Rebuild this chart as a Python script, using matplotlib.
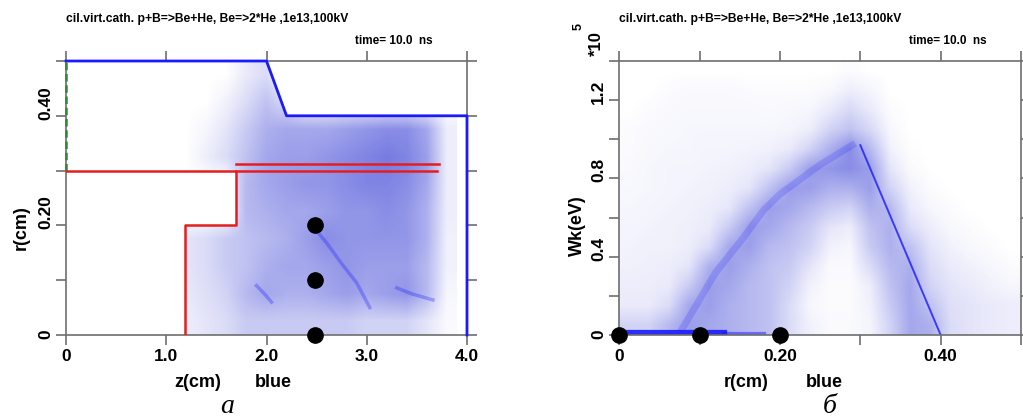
import matplotlib
matplotlib.use("Agg")
import matplotlib.pyplot as plt
import numpy as np
from matplotlib.colors import LinearSegmentedColormap
from matplotlib.patches import Polygon
from matplotlib.transforms import offset_copy

plt.rcParams["font.family"] = ["Liberation Sans", "DejaVu Sans"]

TITLE = "cil.virt.cath. p+B=>Be+He, Be=>2*He ,1e13,100kV"
TIME = "time= 10.0  ns"

# ---- panel a: geometry (z, r in cm) ----
blue_z = [0.0, 2.0, 2.2, 4.0, 4.0]
blue_r = [0.5, 0.5, 0.4, 0.4, 0.0]
green_z = [0.0, 0.0]
green_r = [0.3, 0.5]
red_step_z = [0.0, 1.70, 1.70, 1.19, 1.19]
red_step_r = [0.30, 0.30, 0.20, 0.20, 0.0]
red_lo_z = [1.70, 3.70]
red_lo_r = [0.30, 0.30]
red_hi_z = [1.70, 3.72]
red_hi_r = [0.312, 0.312]
probe_z = [2.48, 2.48, 2.48]
probe_r = [0.20, 0.10, 0.0]

# particle density (rows top -> bottom)
a_z = [1.2, 1.4, 1.6, 1.8, 2.0, 2.2, 2.4, 2.6, 2.8, 3.0, 3.2, 3.4, 3.6, 3.8]
a_r = [0.475, 0.425, 0.375, 0.325, 0.275, 0.225, 0.175, 0.125, 0.075, 0.025]
a_dens = [
    [0.00, 0.00, 0.00, 0.12, 0.20, 0.00, 0.00, 0.00, 0.00, 0.00, 0.00, 0.00, 0.00, 0.00],
    [0.00, 0.00, 0.08, 0.20, 0.35, 0.20, 0.00, 0.00, 0.00, 0.00, 0.00, 0.00, 0.00, 0.00],
    [0.00, 0.05, 0.15, 0.30, 0.45, 0.50, 0.50, 0.50, 0.55, 0.60, 0.65, 0.65, 0.50, 0.10],
    [0.00, 0.10, 0.20, 0.35, 0.50, 0.55, 0.55, 0.60, 0.65, 0.70, 0.75, 0.70, 0.55, 0.10],
    [0.00, 0.00, 0.00, 0.40, 0.50, 0.55, 0.60, 0.60, 0.65, 0.70, 0.70, 0.65, 0.50, 0.10],
    [0.00, 0.00, 0.00, 0.40, 0.45, 0.50, 0.50, 0.55, 0.60, 0.60, 0.65, 0.60, 0.45, 0.10],
    [0.15, 0.20, 0.30, 0.35, 0.40, 0.45, 0.55, 0.65, 0.60, 0.60, 0.60, 0.60, 0.45, 0.08],
    [0.15, 0.20, 0.30, 0.35, 0.45, 0.50, 0.50, 0.55, 0.60, 0.55, 0.55, 0.55, 0.40, 0.08],
    [0.12, 0.18, 0.25, 0.40, 0.50, 0.45, 0.45, 0.50, 0.55, 0.50, 0.55, 0.60, 0.40, 0.05],
    [0.10, 0.15, 0.20, 0.30, 0.30, 0.30, 0.30, 0.30, 0.30, 0.25, 0.25, 0.25, 0.15, 0.03],
]
# denser filaments inside the cloud
a_streaks = [
    ([2.50, 2.60, 2.75, 2.90, 3.03], [0.19, 0.168, 0.13, 0.095, 0.05]),
    ([3.30, 3.45, 3.66], [0.086, 0.075, 0.064]),
    ([1.90, 1.97, 2.05], [0.09, 0.077, 0.06]),
]

# ---- panel b: Wk (1e5 eV) vs r (cm) ----
b_r = [0.0125, 0.0375, 0.0625, 0.0875, 0.1125, 0.1375, 0.1625, 0.1875, 0.2125, 0.2375,
       0.2625, 0.2875, 0.3125, 0.3375, 0.3625, 0.3875, 0.4125, 0.4375, 0.4625, 0.4875]
b_w = [1.35, 1.25, 1.15, 1.05, 0.95, 0.85, 0.75, 0.65, 0.55, 0.45, 0.35, 0.25, 0.15, 0.05]
b_dens = [
    [0.00, 0.00, 0.00, 0.00, 0.00, 0.00, 0.00, 0.00, 0.00, 0.00, 0.00, 0.02, 0.00, 0.00, 0.00, 0.00, 0.00, 0.00, 0.00, 0.00],
    [0.00, 0.00, 0.02, 0.03, 0.03, 0.03, 0.02, 0.02, 0.02, 0.02, 0.04, 0.10, 0.06, 0.00, 0.00, 0.00, 0.00, 0.00, 0.00, 0.00],
    [0.00, 0.02, 0.03, 0.04, 0.04, 0.04, 0.04, 0.03, 0.04, 0.05, 0.12, 0.22, 0.12, 0.02, 0.00, 0.00, 0.00, 0.00, 0.00, 0.00],
    [0.02, 0.03, 0.04, 0.05, 0.05, 0.05, 0.05, 0.05, 0.06, 0.10, 0.25, 0.35, 0.22, 0.04, 0.00, 0.00, 0.00, 0.00, 0.00, 0.00],
    [0.02, 0.04, 0.05, 0.05, 0.06, 0.06, 0.07, 0.08, 0.12, 0.25, 0.45, 0.65, 0.40, 0.08, 0.01, 0.00, 0.00, 0.00, 0.00, 0.00],
    [0.03, 0.05, 0.06, 0.06, 0.07, 0.08, 0.10, 0.15, 0.30, 0.55, 0.60, 0.65, 0.55, 0.15, 0.03, 0.00, 0.00, 0.00, 0.00, 0.00],
    [0.04, 0.05, 0.06, 0.07, 0.08, 0.10, 0.15, 0.35, 0.55, 0.55, 0.45, 0.45, 0.55, 0.25, 0.08, 0.02, 0.00, 0.00, 0.00, 0.00],
    [0.05, 0.06, 0.07, 0.08, 0.10, 0.14, 0.35, 0.55, 0.50, 0.40, 0.30, 0.25, 0.45, 0.40, 0.12, 0.05, 0.02, 0.00, 0.00, 0.00],
    [0.06, 0.07, 0.08, 0.09, 0.12, 0.30, 0.55, 0.50, 0.40, 0.30, 0.15, 0.10, 0.35, 0.45, 0.20, 0.10, 0.04, 0.02, 0.00, 0.00],
    [0.07, 0.08, 0.08, 0.10, 0.20, 0.50, 0.55, 0.40, 0.35, 0.25, 0.08, 0.05, 0.30, 0.45, 0.35, 0.15, 0.08, 0.04, 0.02, 0.00],
    [0.08, 0.09, 0.10, 0.15, 0.45, 0.55, 0.45, 0.35, 0.30, 0.15, 0.03, 0.03, 0.20, 0.40, 0.45, 0.20, 0.12, 0.08, 0.05, 0.02],
    [0.10, 0.10, 0.12, 0.30, 0.55, 0.50, 0.40, 0.35, 0.25, 0.08, 0.02, 0.02, 0.10, 0.35, 0.50, 0.25, 0.15, 0.12, 0.08, 0.05],
    [0.12, 0.12, 0.20, 0.50, 0.55, 0.45, 0.40, 0.35, 0.20, 0.05, 0.02, 0.02, 0.08, 0.30, 0.50, 0.35, 0.18, 0.15, 0.12, 0.10],
    [0.25, 0.25, 0.40, 0.55, 0.50, 0.45, 0.40, 0.35, 0.20, 0.08, 0.03, 0.03, 0.06, 0.25, 0.50, 0.45, 0.20, 0.15, 0.12, 0.10],
]
b_edge_r = [0.30, 0.40]
b_edge_w = [0.97, 0.0]
b_band_r = [0.078, 0.12, 0.153, 0.18, 0.20, 0.25, 0.29]
b_band_w = [0.03, 0.32, 0.49, 0.64, 0.72, 0.87, 0.97]
b_floor_r = [0.0, 0.13]
b_floor_w = [0.008, 0.008]
b_floor2_r = [0.13, 0.18]
b_floor2_w = [0.006, 0.006]
probe2_r = [0.0, 0.10, 0.20]
probe2_w = [0.0, 0.0, 0.0]

BLUE = "#1a1aff"
RED = "#e41e1e"
GREEN = "#2e8b2e"
FRAME = "#6e6e6e"
cloud_cmap = LinearSegmentedColormap.from_list("cloud", ["#ffffff", "#4a50d8"])


def extent_from_centers(xc, yc):
    dx = xc[1] - xc[0]
    dy = abs(yc[1] - yc[0])
    return [xc[0] - dx / 2, xc[-1] + dx / 2, min(yc) - dy / 2, max(yc) + dy / 2]


def style_frame(ax):
    for sp in ax.spines.values():
        sp.set_color(FRAME)
        sp.set_linewidth(1.2)
    ax.tick_params(which="both", direction="out", top=True, right=True,
                   length=7, width=1.2, color=FRAME, labelleft=False,
                   labelsize=12.5, pad=3)
    for lab in ax.get_xticklabels():
        lab.set_fontweight("bold")


def y_labels(fig, ax, vals, texts):
    tr = offset_copy(ax.get_yaxis_transform(), fig=fig, x=-13, y=-4, units="dots")
    for v, t in zip(vals, texts):
        ax.text(0, v, t, transform=tr, rotation=90, ha="right", va="bottom",
                fontsize=12.5, fontweight="bold", clip_on=False)


fig = plt.figure(figsize=(10.23, 4.19), dpi=100)
W, H = 1023, 419
ax1 = fig.add_axes([66 / W, 1 - 335 / H, 401 / W, 274 / H])
ax2 = fig.add_axes([619.3 / W, 1 - 335 / H, 401.7 / W, 274 / H])

# ---------------- panel a ----------------
ax1.set_xlim(0, 4.0)
ax1.set_ylim(0, 0.5)
img = ax1.imshow(np.array(a_dens), extent=extent_from_centers(a_z, a_r),
                 origin="upper", cmap=cloud_cmap, vmin=0, vmax=1,
                 interpolation="bilinear", aspect="auto", zorder=1)
# particles live inside the electrode outline
clip_xy = list(zip(red_step_z[::-1], red_step_r[::-1])) + list(zip(blue_z, blue_r))
clip = Polygon(clip_xy, closed=True, transform=ax1.transData, fill=False, lw=0)
ax1.add_patch(clip)
img.set_clip_path(clip)
for zs, rs in a_streaks:
    ax1.plot(zs, rs, color=BLUE, lw=2.5, alpha=0.3, zorder=2)

ax1.plot(blue_z, blue_r, color=BLUE, lw=2.0, zorder=4, clip_on=False)
ax1.plot(green_z, green_r, color=GREEN, lw=1.8, ls=(0, (3, 1.5)), zorder=4, clip_on=False)
ax1.plot(red_step_z, red_step_r, color=RED, lw=1.8, zorder=4)
ax1.plot(red_lo_z, red_lo_r, color=RED, lw=1.8, zorder=4)
ax1.plot(red_hi_z, red_hi_r, color=RED, lw=1.8, zorder=4)
ax1.plot(probe_z, probe_r, "o", color="black", ms=11, zorder=6, clip_on=False)

ax1.set_xticks([0, 1, 2, 3, 4])
ax1.set_xticklabels(["0", "1.0", "2.0", "3.0", "4.0"])
ax1.set_yticks([0, 0.1, 0.2, 0.3, 0.4, 0.5])
style_frame(ax1)
y_labels(fig, ax1, [0, 0.2, 0.4], ["0", "0.20", "0.40"])

# ---------------- panel b ----------------
ax2.set_xlim(0, 0.5)
ax2.set_ylim(0, 1.4)
ax2.imshow(np.array(b_dens), extent=extent_from_centers(b_r, b_w),
           origin="upper", cmap=cloud_cmap, vmin=0, vmax=1,
           interpolation="bilinear", aspect="auto", zorder=1)
ax2.plot(b_band_r, b_band_w, color=BLUE, lw=5.0, alpha=0.18, zorder=2)
ax2.plot(b_edge_r, b_edge_w, color=BLUE, lw=1.4, alpha=0.8, zorder=2)
ax2.plot(b_floor_r, b_floor_w, color=BLUE, lw=4.5, alpha=0.9, zorder=2)
ax2.plot(b_floor2_r, b_floor2_w, color=BLUE, lw=3.0, alpha=0.5, zorder=2)
ax2.plot(probe2_r, probe2_w, "o", color="black", ms=11, zorder=6, clip_on=False)

ax2.set_xticks([0, 0.1, 0.2, 0.3, 0.4, 0.5])
ax2.set_xticklabels(["0", "", "0.20", "", "0.40", ""])
ax2.set_yticks([0, 0.2, 0.4, 0.6, 0.8, 1.0, 1.2, 1.4])
style_frame(ax2)
y_labels(fig, ax2, [0, 0.4, 0.8, 1.2], ["0", "0.4", "0.8", "1.2"])

# ---------------- texts ----------------
def px(x, y):
    return x / W, 1 - y / H

bold = dict(fontweight="bold")
for x0, xt in ((66, 355), (619, 909)):
    fig.text(*px(x0, 19), TITLE, fontsize=8.7, ha="left", va="center", **bold)
    fig.text(*px(xt, 41), TIME, fontsize=8.5, ha="left", va="center", **bold)

fig.text(*px(198, 382), "z(cm)", fontsize=13, ha="center", va="center", **bold)
fig.text(*px(273, 382), "blue", fontsize=13, ha="center", va="center", **bold)
fig.text(*px(746, 382), "r(cm)", fontsize=13, ha="center", va="center", **bold)
fig.text(*px(824, 382), "blue", fontsize=13, ha="center", va="center", **bold)

fig.text(*px(21, 228), "r(cm)", fontsize=13, rotation=90, ha="center", va="center", **bold)
fig.text(*px(577, 226), "Wk(eV)", fontsize=13, rotation=90, ha="center", va="center", **bold)
fig.text(*px(596, 44), "*10", fontsize=12, rotation=90, ha="center", va="center", **bold)
fig.text(*px(579, 27), "5", fontsize=9, rotation=90, ha="center", va="center", **bold)

serif = dict(family=["Liberation Serif", "DejaVu Serif"], style="italic")
fig.text(*px(227, 406), "а", fontsize=20, ha="center", va="center", **serif)
fig.text(*px(830, 406), "б", fontsize=20, ha="center", va="center", **serif)

fig.savefig("out.png", dpi=100)
